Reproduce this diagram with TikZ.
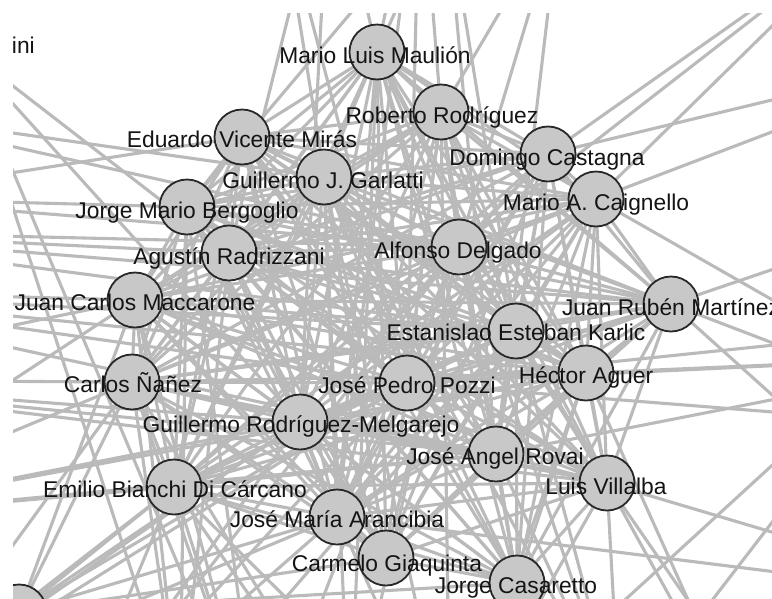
\documentclass[tikz,border=0pt]{standalone}
\usepackage{fontspec}
\setmainfont{Liberation Sans}
\definecolor{edgegray}{RGB}{186,186,186}
\definecolor{nodefill}{RGB}{200,200,200}
\definecolor{nodeline}{RGB}{40,40,40}
\definecolor{labeltext}{RGB}{20,20,20}
\begin{document}
\begin{tikzpicture}[x=1pt,y=-1pt,
  edge/.style={draw=edgegray,line width=3.1pt},
  person/.style={circle,draw=nodeline,fill=nodefill,line width=1.8pt,minimum size=55pt,inner sep=0pt},
  namelabel/.style={text=labeltext,font=\fontsize{22.8}{24}\selectfont,inner sep=0pt,anchor=base}]
\useasboundingbox (0,0) rectangle (772,598);
\fill[white] (0,0) rectangle (772,598);
\clip (13,13) rectangle (772,598);
% visible nodes
\coordinate (MLM) at (377,52);
\coordinate (RR) at (441,112);
\coordinate (DC) at (548,154);
\coordinate (MAC) at (596,199);
\coordinate (EVM) at (242,137);
\coordinate (GJG) at (324,177);
\coordinate (JMB) at (187,207);
\coordinate (AR) at (229,253);
\coordinate (JCM) at (135,300);
\coordinate (CN) at (132,382);
\coordinate (AD) at (459,247);
\coordinate (JRM) at (671,304);
\coordinate (EEK) at (516,331);
\coordinate (HA) at (586,373);
\coordinate (JPP) at (407,383);
\coordinate (GRM) at (300,422);
\coordinate (EBC) at (174,487);
\coordinate (JMA) at (337,517);
\coordinate (CG) at (386,558);
\coordinate (JAR) at (496,454);
\coordinate (LV) at (607,483);
\coordinate (JC) at (517,583);
\coordinate (BL) at (19,612);
% nodes outside the frame
\coordinate (L1) at (-40,45);
\coordinate (L2) at (-150,110);
\coordinate (L3) at (-150,198);
\coordinate (L4) at (-250,230);
\coordinate (L5) at (-250,290);
\coordinate (L6) at (-250,380);
\coordinate (L7) at (-200,520);
\coordinate (L8) at (-100,700);
\coordinate (B1) at (60,760);
\coordinate (B2) at (180,720);
\coordinate (B3) at (260,760);
\coordinate (B4) at (350,740);
\coordinate (B5) at (450,760);
\coordinate (B6) at (620,720);
\coordinate (B7) at (760,760);
\coordinate (R1) at (880,-80);
\coordinate (R2) at (1000,45);
\coordinate (R3) at (1000,192);
\coordinate (R4) at (1000,430);
\coordinate (R5) at (1000,355);
\coordinate (R6) at (920,330);
\coordinate (R7) at (1000,600);
\coordinate (R8) at (900,908);
\coordinate (T1) at (280,-100);
\coordinate (T2) at (330,-150);
\coordinate (T3) at (446,-100);
\coordinate (T4) at (420,-150);
\coordinate (T5) at (560,-90);
% connectors among the visible nodes
\foreach \a [count=\i] in {MLM,RR,DC,MAC,EVM,GJG,JMB,AR,JCM,CN,AD,JRM,EEK,HA,JPP,GRM,EBC,JMA,CG,JAR,LV,JC}{
  \foreach \b [count=\j] in {MLM,RR,DC,MAC,EVM,GJG,JMB,AR,JCM,CN,AD,JRM,EEK,HA,JPP,GRM,EBC,JMA,CG,JAR,LV,JC}{
    \ifnum\j>\i \draw[edge] (\a) -- (\b);\fi
  }
}
% connectors that leave the frame
\foreach \a/\b in {BL/EBC,BL/CN,BL/JCM,BL/GRM,BL/JMA,BL/CG,BL/JPP,BL/JC,
  L1/AR,L1/GRM,L1/B2,L1/B3,L2/GJG,L2/AD,L3/EVM,L3/JMB,
  L4/AR,L4/AD,L4/EEK,L5/JCM,L5/JPP,L5/HA,L6/JCM,L6/CN,L6/GRM,
  L7/CN,L7/JCM,L7/EBC,L7/GRM,L8/CN,L8/EBC,L8/JMA,L8/GRM,L8/JPP,
  B1/EBC,B1/GRM,B1/JPP,B1/JMA,B2/JCM,B2/AR,B2/JMB,B2/CN,
  B3/EBC,B3/CN,B3/JCM,B3/JMB,B4/EBC,B4/CN,B4/JC,
  B5/EBC,B5/JMA,B5/LV,B5/HA,B6/LV,B6/JAR,B6/EEK,B6/JC,B7/LV,B7/HA,B7/JC,
  B5/R6,B6/R6,
  R1/DC,R1/MAC,R1/AD,R2/DC,R2/MAC,R3/JRM,R4/MAC,R4/JRM,R5/JAR,R5/HA,
  R7/LV,R7/JRM,R8/LV,
  T1/CG,T2/MLM,T3/JMB,T3/MLM,T4/MLM,T4/RR,T5/RR,
  T1/JPP,T2/AR,T2/GRM,T3/JAR,T3/EEK,T4/JPP,T4/JMA,T5/AD,T5/JAR,
  B4/GJG,B4/AD,B5/GJG,B5/RR,B3/AD,B2/EEK,B1/AD,B6/GJG,B6/AD,B4/MLM,
  L4/JRM,L5/EEK,L5/JAR,L6/JAR,L6/LV,L3/AD,L7/JAR,L7/HA,
  R4/JPP,R5/JPP,R7/JMA,R6/JPP}
  \draw[edge] (\a) -- (\b);
% circles
\foreach \a in {MLM,RR,DC,MAC,EVM,GJG,JMB,AR,JCM,CN,AD,JRM,EEK,HA,JPP,GRM,EBC,JMA,CG,JAR,LV,JC,BL}
  \node[person] (\a-c) at (\a) {};
% labels
\node[namelabel] (MLM-l) at (375,63) {Mario Luis Maulión};
\node[namelabel] (RR-l) at (442,123) {Roberto Rodríguez};
\node[namelabel] (DC-l) at (547,165) {Domingo Castagna};
\node[namelabel] (MAC-l) at (596,210) {Mario A. Caignello};
\node[namelabel] (EVM-l) at (242,147) {Eduardo Vicente Mirás};
\node[namelabel] (GJG-l) at (323,188) {Guillermo J. Garlatti};
\node[namelabel] (JMB-l) at (187,218) {Jorge Mario Bergoglio};
\node[namelabel] (AR-l) at (229,264) {Agustín Radrizzani};
\node[namelabel] (JCM-l) at (135,310) {Juan Carlos Maccarone};
\node[namelabel] (CN-l) at (133,392) {Carlos Ñañez};
\node[namelabel] (AD-l) at (458,258) {Alfonso Delgado};
\node[namelabel] (JRM-l) at (671,315) {Juan Rubén Martínez};
\node[namelabel] (EEK-l) at (516,340) {Estanislao Esteban Karlic};
\node[namelabel] (HA-l) at (586,383) {Héctor Aguer};
\node[namelabel] (JPP-l) at (407,393) {José Pedro Pozzi};
\node[namelabel] (GRM-l) at (301,432) {Guillermo Rodríguez-Melgarejo};
\node[namelabel] (EBC-l) at (175,497) {Emilio Bianchi Di Cárcano};
\node[namelabel] (JMA-l) at (337,527) {José María Arancibia};
\node[namelabel] (CG-l) at (387,571) {Carmelo Giaquinta};
\node[namelabel] (JAR-l) at (495,464) {José Angel Rovai};
\node[namelabel] (LV-l) at (606,494) {Luis Villalba};
\node[namelabel] (JC-l) at (516,593) {Jorge Casaretto};
\node[namelabel,anchor=base east] (ini-l) at (35,53) {ini};
\end{tikzpicture}
\end{document}
